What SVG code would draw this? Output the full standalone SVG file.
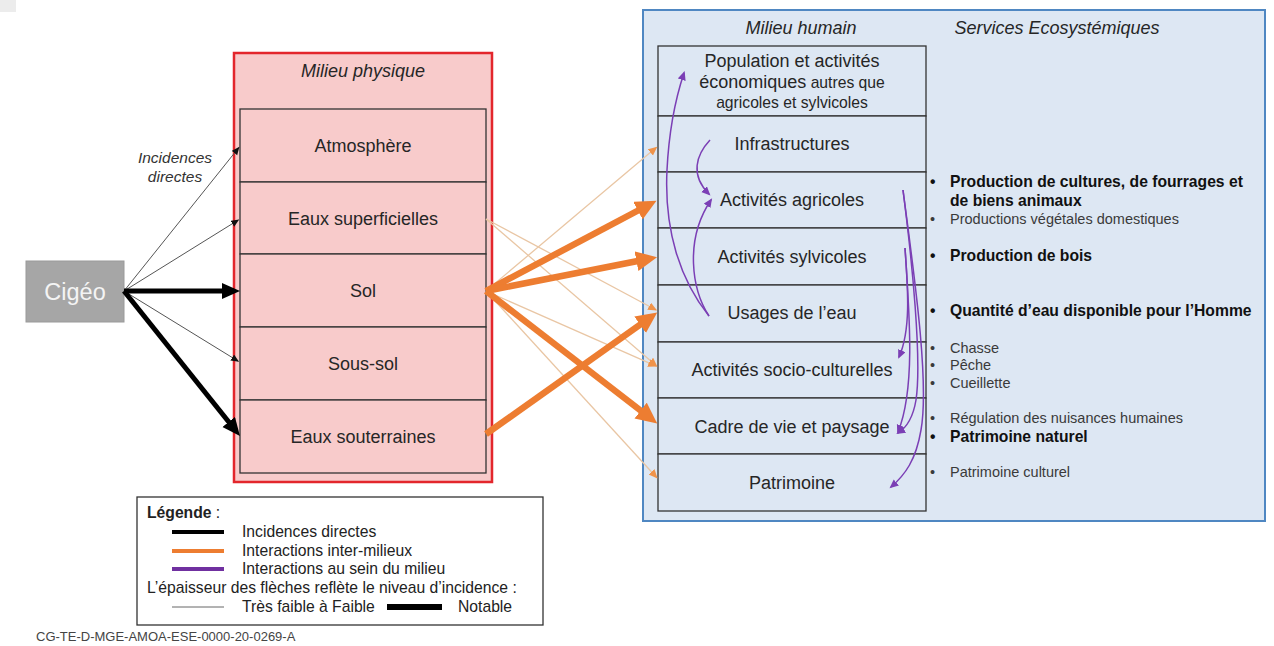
<svg xmlns="http://www.w3.org/2000/svg" width="1274" height="646" viewBox="0 0 1274 646">
  <style>
    text { font-family: "Liberation Sans", Arial, sans-serif; fill: #262626; }
    .mid { text-anchor: middle; }
    .row { font-size: 18px; }
    .head { font-size: 18px; font-style: italic; }
    .svc-b { font-size: 15.7px; font-weight: bold; fill: #111; }
    .svc { font-size: 14.5px; fill: #3a3a3a; }
    .leg { font-size: 15.7px; fill: #222; }
    .phys { fill: #f8cbcb; stroke: #333; stroke-width: 1.3; }
    .hum { fill: #dde7f3; stroke: #333; stroke-width: 1.3; }
    .bk-thin { stroke: #555; stroke-width: 1; fill: none; }
    .bk-thick { stroke: #000; stroke-width: 5; fill: none; }
    .or-thin { stroke: #e9c6a4; stroke-width: 1.3; fill: none; }
    .or-thick { stroke: #ed7d31; stroke-width: 6.5; fill: none; }
    .pu { stroke: #7b3fb5; stroke-width: 1.5; fill: none; }
  </style>
  <defs>
    <marker id="ah-bk-thin" markerUnits="userSpaceOnUse" markerWidth="10" markerHeight="8" refX="7" refY="3.5" orient="auto">
      <path d="M0,0 L8,3.5 L0,7 Z" fill="#111"/>
    </marker>
    <marker id="ah-bk-thick" markerUnits="userSpaceOnUse" markerWidth="20" markerHeight="18" refX="12" refY="8" orient="auto">
      <path d="M0,0 L18,8 L0,16 Z" fill="#000"/>
    </marker>
    <marker id="ah-or-thin" markerUnits="userSpaceOnUse" markerWidth="11" markerHeight="9" refX="8" refY="4" orient="auto">
      <path d="M0,0 L9,4 L0,8 Z" fill="#f0934a"/>
    </marker>
    <marker id="ah-or-thick" markerUnits="userSpaceOnUse" markerWidth="24" markerHeight="22" refX="13" refY="10" orient="auto">
      <path d="M0,0 L21,10 L0,20 Z" fill="#ed7d31"/>
    </marker>
    <marker id="ah-pu" markerUnits="userSpaceOnUse" markerWidth="11" markerHeight="9" refX="7" refY="4" orient="auto">
      <path d="M0,0 L9,4 L0,8 Z" fill="#7b3fb5"/>
    </marker>
  </defs>

  <rect x="0" y="0" width="16" height="12" fill="#ececec"/>

  <!-- Source -->
  <g id="cigeo">
    <rect x="26" y="261" width="98" height="61" fill="#a6a6a6" stroke="#9a9a9a"/>
    <text x="75" y="300" class="mid" style="font-size:23.5px; fill:#f4f4f4">Cigéo</text>
  </g>

  <!-- Physical environment -->
  <g id="milieu-physique">
    <rect x="234" y="53" width="258" height="429" fill="#f8cbcb" stroke="#e3262c" stroke-width="2.5"/>
    <text x="363" y="77" class="mid head">Milieu physique</text>
  </g>
  <g id="atmosphere">
    <rect x="240" y="109" width="246" height="73" class="phys"/>
    <text x="363" y="152" class="mid row">Atmosphère</text>
  </g>
  <g id="eaux-superficielles">
    <rect x="240" y="182" width="246" height="72" class="phys"/>
    <text x="363" y="225" class="mid row">Eaux superficielles</text>
  </g>
  <g id="sol">
    <rect x="240" y="254" width="246" height="73" class="phys"/>
    <text x="363" y="297" class="mid row">Sol</text>
  </g>
  <g id="sous-sol">
    <rect x="240" y="327" width="246" height="73" class="phys"/>
    <text x="363" y="370" class="mid row">Sous-sol</text>
  </g>
  <g id="eaux-souterraines">
    <rect x="240" y="400" width="246" height="73" class="phys"/>
    <text x="363" y="443" class="mid row">Eaux souterraines</text>
  </g>

  <!-- Human environment -->
  <g id="milieu-humain">
    <rect x="643" y="10" width="622" height="511" fill="#dde7f3" stroke="#4f87c2" stroke-width="2"/>
    <text x="801" y="34" class="mid head">Milieu humain</text>
    <text x="1057" y="34" class="mid head">Services Ecosystémiques</text>
  </g>
  <g id="population">
    <rect x="658" y="46" width="268" height="70" class="hum"/>
    <text x="792" y="67" class="mid row">Population et activités</text>
    <text x="792" y="88" class="mid"><tspan style="font-size:18px">économiques</tspan><tspan style="font-size:15.7px"> autres que</tspan></text>
    <text x="792" y="108" class="mid" style="font-size:15.7px">agricoles et sylvicoles</text>
  </g>
  <g id="infrastructures">
    <rect x="658" y="116" width="268" height="56" class="hum"/>
    <text x="792" y="150" class="mid row">Infrastructures</text>
  </g>
  <g id="activites-agricoles">
    <rect x="658" y="172" width="268" height="56" class="hum"/>
    <text x="792" y="206" class="mid row">Activités agricoles</text>
  </g>
  <g id="activites-sylvicoles">
    <rect x="658" y="228" width="268" height="57" class="hum"/>
    <text x="792" y="263" class="mid row">Activités sylvicoles</text>
  </g>
  <g id="usages-eau">
    <rect x="658" y="285" width="268" height="57" class="hum"/>
    <text x="792" y="319" class="mid row">Usages de l’eau</text>
  </g>
  <g id="socio-culturelles">
    <rect x="658" y="342" width="268" height="56" class="hum"/>
    <text x="792" y="376" class="mid row">Activités socio-culturelles</text>
  </g>
  <g id="cadre-de-vie">
    <rect x="658" y="398" width="268" height="56" class="hum"/>
    <text x="792" y="433" class="mid row">Cadre de vie et paysage</text>
  </g>
  <g id="patrimoine">
    <rect x="658" y="454" width="268" height="57" class="hum"/>
    <text x="792" y="489" class="mid row">Patrimoine</text>
  </g>

  <!-- Ecosystem services -->
  <g id="services">
    <text x="930" y="187" class="svc-b">•</text>
    <text x="950" y="187" class="svc-b">Production de cultures, de fourrages et</text>
    <text x="950" y="206" class="svc-b">de biens animaux</text>
    <text x="930" y="224" class="svc">•</text>
    <text x="950" y="224" class="svc">Productions végétales domestiques</text>
    <text x="930" y="261" class="svc-b">•</text>
    <text x="950" y="261" class="svc-b">Production de bois</text>
    <text x="930" y="316" class="svc-b">•</text>
    <text x="950" y="316" class="svc-b">Quantité d’eau disponible pour l’Homme</text>
    <text x="930" y="353" class="svc">•</text>
    <text x="950" y="353" class="svc">Chasse</text>
    <text x="930" y="370" class="svc">•</text>
    <text x="950" y="370" class="svc">Pêche</text>
    <text x="930" y="388" class="svc">•</text>
    <text x="950" y="388" class="svc">Cueillette</text>
    <text x="930" y="423" class="svc">•</text>
    <text x="950" y="423" class="svc">Régulation des nuisances humaines</text>
    <text x="930" y="442" class="svc-b">•</text>
    <text x="950" y="442" class="svc-b">Patrimoine naturel</text>
    <text x="930" y="477" class="svc">•</text>
    <text x="950" y="477" class="svc">Patrimoine culturel</text>
  </g>

  <!-- Connectors -->
  <g id="connectors">
    <!-- direct impacts -->
    <text x="175" y="163" class="mid" style="font-size:15.5px; font-style:italic; fill:#333">Incidences</text>
    <text x="175" y="182" class="mid" style="font-size:15.5px; font-style:italic; fill:#333">directes</text>
    <line x1="124" y1="291" x2="238.8" y2="147.6" class="bk-thin" marker-end="url(#ah-bk-thin)"/>
    <line x1="124" y1="291" x2="238.3" y2="220" class="bk-thin" marker-end="url(#ah-bk-thin)"/>
    <line x1="124" y1="291" x2="238.2" y2="361.2" class="bk-thin" marker-end="url(#ah-bk-thin)"/>
    <line x1="124" y1="291" x2="234" y2="291" class="bk-thick" marker-end="url(#ah-bk-thick)"/>
    <line x1="124" y1="291" x2="236.2" y2="431.3" class="bk-thick" marker-end="url(#ah-bk-thick)"/>

    <!-- inter-environment, weak -->
    <line x1="486" y1="291" x2="656.5" y2="147.3" class="or-thin" marker-end="url(#ah-or-thin)"/>
    <line x1="486" y1="219" x2="656.2" y2="310" class="or-thin" marker-end="url(#ah-or-thin)"/>
    <line x1="486" y1="219" x2="656.6" y2="366" class="or-thin" marker-end="url(#ah-or-thin)"/>
    <line x1="486" y1="291" x2="656.2" y2="366.2" class="or-thin" marker-end="url(#ah-or-thin)"/>
    <line x1="486" y1="291" x2="656.9" y2="477.7" class="or-thin" marker-end="url(#ah-or-thin)"/>

    <!-- inter-environment, notable -->
    <line x1="486" y1="291" x2="649.4" y2="204.5" class="or-thick" marker-end="url(#ah-or-thick)"/>
    <line x1="486" y1="291" x2="649.2" y2="258.7" class="or-thick" marker-end="url(#ah-or-thick)"/>
    <line x1="486" y1="291" x2="650.9" y2="418.5" class="or-thick" marker-end="url(#ah-or-thick)"/>
    <line x1="486" y1="434" x2="650.7" y2="317.2" class="or-thick" marker-end="url(#ah-or-thick)"/>

    <!-- within the human environment -->
    <path d="M709,316 C680,280 664,230 667,170 C669,130 675,100 684,73" class="pu" marker-end="url(#ah-pu)"/>
    <path d="M710,140 C696,155 690,175 709,194" class="pu" marker-end="url(#ah-pu)"/>
    <path d="M709,316 C692,290 684,240 711,200" class="pu" marker-end="url(#ah-pu)"/>
    <path d="M903,190 C912,260 930,380 921,430 C916,460 905,475 891,487" class="pu" marker-end="url(#ah-pu)"/>
    <path d="M903,190 C912,260 922,360 916,400 C913,418 906,428 898,433" class="pu" marker-end="url(#ah-pu)"/>
    <path d="M905,248 C908,290 911,330 899,357" class="pu" marker-end="url(#ah-pu)"/>
    <path d="M905,248 C910,320 915,390 898,432" class="pu" marker-end="url(#ah-pu)"/>
  </g>

  <!-- Legend -->
  <g id="legende">
    <rect x="137" y="497" width="406" height="128" fill="#fff" stroke="#333" stroke-width="1.3"/>
    <text x="147" y="518" class="leg"><tspan font-weight="bold">Légende</tspan> :</text>
    <line x1="172" y1="532" x2="224" y2="532" stroke="#000" stroke-width="4"/>
    <text x="242" y="537" class="leg">Incidences directes</text>
    <line x1="172" y1="551" x2="224" y2="551" stroke="#ed7d31" stroke-width="4"/>
    <text x="242" y="556" class="leg">Interactions inter-milieux</text>
    <line x1="172" y1="569" x2="224" y2="569" stroke="#7030a0" stroke-width="4"/>
    <text x="242" y="574" class="leg">Interactions au sein du milieu</text>
    <text x="147" y="593" class="leg">L’épaisseur des flèches reflète le niveau d’incidence :</text>
    <line x1="172" y1="607" x2="224" y2="607" stroke="#666" stroke-width="1"/>
    <text x="242" y="612" class="leg">Très faible à Faible</text>
    <line x1="387" y1="607" x2="442" y2="607" stroke="#000" stroke-width="6"/>
    <text x="458" y="612" class="leg">Notable</text>
  </g>

  <text x="36" y="641" style="font-size:13px; fill:#444">CG-TE-D-MGE-AMOA-ESE-0000-20-0269-A</text>
</svg>
